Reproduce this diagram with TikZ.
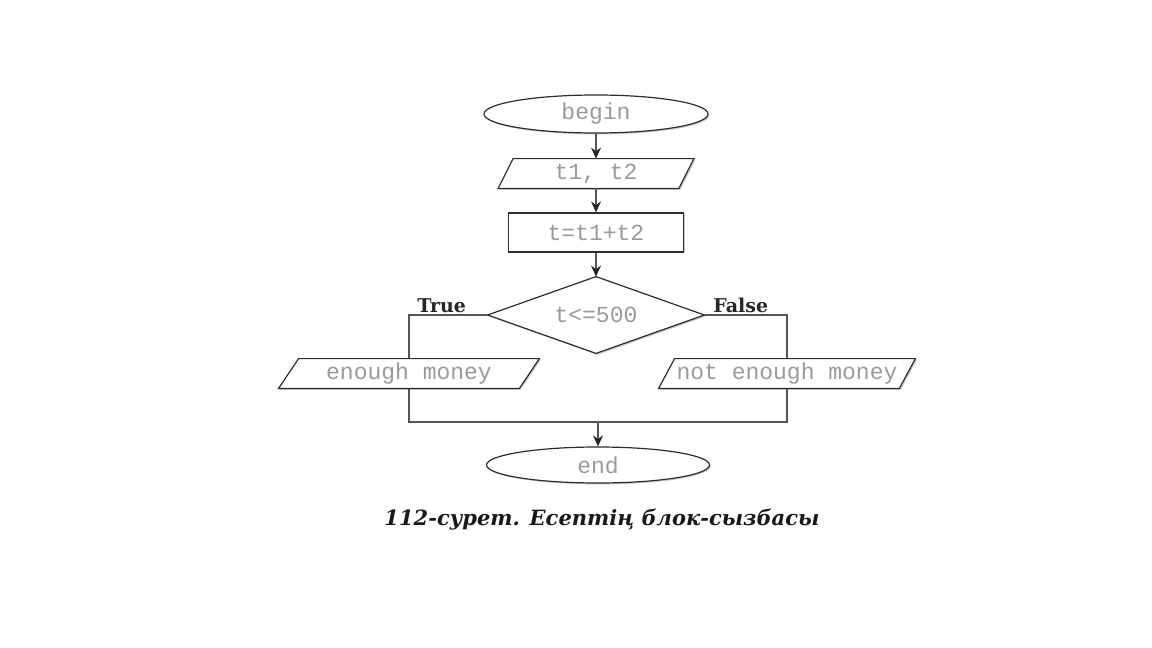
\documentclass[tikz,border=0pt]{standalone}
\usepackage{fontspec}
\setmonofont{Liberation Mono}
\newfontfamily\labfont{DejaVu Serif}
\usetikzlibrary{shapes.geometric,arrows.meta,calc,shadows}
\definecolor{codegray}{HTML}{9A9A9A}
\definecolor{linegray}{HTML}{555555}
\definecolor{shapeline}{HTML}{2E2E2E}
\tikzset{
  code/.style={font=\ttfamily\fontsize{11.5pt}{13pt}\selectfont, text=codegray},
  shad/.style={drop shadow={shadow xshift=0.7pt, shadow yshift=-0.7pt, opacity=0.35, fill=black!60}},
  term/.style={ellipse, draw=shapeline, line width=0.6pt, fill=white, inner sep=0pt, code, shad},
  box/.style={rectangle, draw=shapeline, line width=0.6pt, fill=white, inner sep=0pt, code, shad},
  ghost/.style={inner sep=0pt, code},
  outl/.style={draw=shapeline, line width=0.6pt, fill=white, shad},
  conn/.style={draw=linegray, line width=0.6pt},
  arr/.style={conn, -{Stealth[length=5.5pt,width=5pt,color=black!85]}},
  branch/.style={font=\labfont\bfseries\fontsize{9.5pt}{11pt}\selectfont, text=black!85, inner sep=0pt},
  capstyle/.style={font=\labfont\bfseries\itshape\fontsize{10.5pt}{12pt}\selectfont, text=black!90, inner sep=0pt}
}
\begin{document}
\begin{tikzpicture}[x=0.5pt,y=-0.5pt]
\path[use as bounding box, fill=white] (0,0) rectangle (1152,648);

% nodes
\node[term, minimum width=112pt, minimum height=19pt] (begin) at (596,114) {begin};

\node[ghost, minimum width=90pt, minimum height=14.5pt] (in1) at (596,173.5) {};
\draw[outl] ($(in1.north west)+(7.5,0)$) -- ($(in1.north east)+(7.5,0)$) -- ($(in1.south east)+(-7.5,0)$) -- ($(in1.south west)+(-7.5,0)$) -- cycle;
\node[ghost] (in1t) at (in1) {t1, t2};

\node[box, minimum width=87.5pt, minimum height=19.5pt] (proc) at (596,232.5) {t=t1+t2};

\node[ghost, minimum width=108pt, minimum height=38pt] (dec) at (596,315) {};
\draw[outl] (dec.north) -- (dec.east) -- (dec.south) -- (dec.west) -- cycle;
\node[ghost] (dect) at (dec) {t<=500};

\node[ghost, minimum width=120pt, minimum height=14.5pt] (yes) at (409,373.5) {};
\node[ghost, minimum width=120pt, minimum height=14.5pt] (no) at (787,373.5) {};

\node[term, minimum width=111.5pt, minimum height=18pt] (end) at (598,465) {end};

% connectors
\draw[arr] (begin.south) -- (begin.south |- in1.north);
\draw[arr] (in1.south) -- (in1.south |- proc.north);
\draw[arr] (proc.south) -- (dec.north);

\coordinate (merge) at (598,422);
\draw[conn] (dec.west) -| (yes.north);
\draw[conn] (dec.east) -| (no.north);
\draw[conn] (yes.south) |- (merge) -| (no.south);
\draw[arr] (merge) -- (end.north);

% output parallelograms (drawn over the lines)
\draw[outl] ($(yes.north west)+(10,0)$) -- ($(yes.north east)+(10,0)$) -- ($(yes.south east)+(-10,0)$) -- ($(yes.south west)+(-10,0)$) -- cycle;
\node[ghost] (yest) at (yes) {enough money};
\draw[outl] ($(no.north west)+(8,0)$) -- ($(no.north east)+(8,0)$) -- ($(no.south east)+(-8,0)$) -- ($(no.south west)+(-8,0)$) -- cycle;
\node[ghost] (not) at (no) {not enough money};

% branch labels
\node[branch, anchor=base west] (tlab) at (417,312) {True};
\node[branch, anchor=base west] (flab) at (713,312) {False};

% caption
\node[capstyle, anchor=base] (caption) at (602,525) {112-сурет. Есептің блок-сызбасы};
\end{tikzpicture}
\end{document}
